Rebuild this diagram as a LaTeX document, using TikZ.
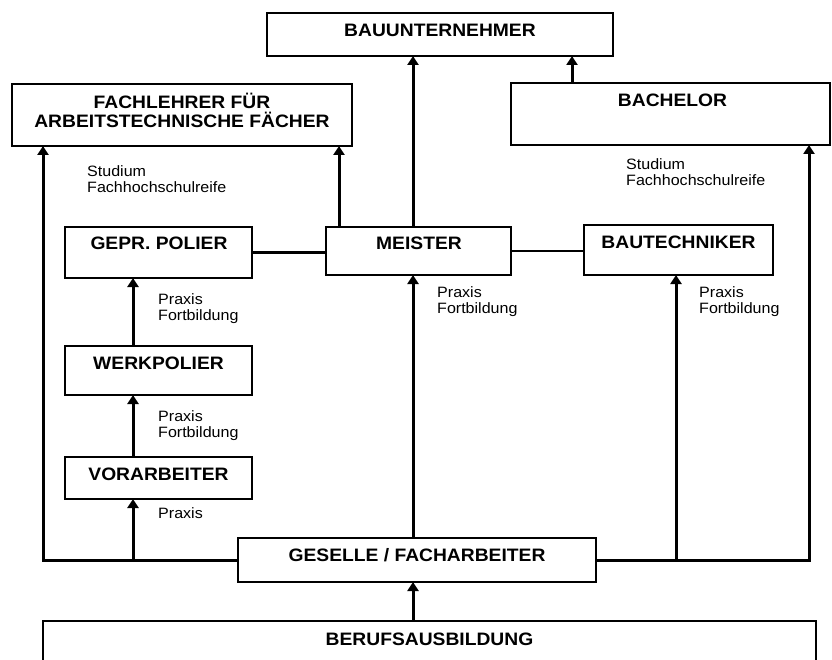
\documentclass[tikz,border=0pt]{standalone}
\usepackage{fontspec}
\setmainfont[FakeStretch=1.07]{Liberation Sans}
\usetikzlibrary{arrows.meta}
\begin{document}
\begin{tikzpicture}[x=1pt,y=-1pt,
  box/.style={draw, line width=2pt, rectangle, inner sep=0pt, outer sep=0pt},
  title/.style={font=\bfseries\fontsize{18}{19}\selectfont, inner sep=0pt, anchor=base, align=center},
  note/.style={font=\fontsize{15}{16}\selectfont, inner sep=0pt, anchor=base west, align=left},
  arr/.style={line width=3pt, -{Triangle[width=11pt,length=9pt]}},
  link/.style={line width=2.5pt}]
\fill[white] (0,0) rectangle (832,660);
\useasboundingbox (0,0) rectangle (832,660);

% boxes
\node[box, minimum width=346pt, minimum height=43pt] (bau) at (440,34.5) {};
\node[title] (tbau) at (440,37) {BAUUNTERNEHMER};
\node[box, minimum width=340pt, minimum height=62pt] (fach) at (182,115) {};
\node[title] (tfach) at (182,128) {FACHLEHRER FÜR\\ARBEITSTECHNISCHE FÄCHER};
\node[box, minimum width=319pt, minimum height=62pt] (bach) at (670.5,114) {};
\node[title] (tbach) at (672.5,107) {BACHELOR};
\node[box, minimum width=187pt, minimum height=51pt] (polier) at (158.5,252.5) {};
\node[title] (tpolier) at (159,250) {GEPR. POLIER};
\node[box, minimum width=185pt, minimum height=48pt] (meister) at (418.5,251) {};
\node[title] (tmeister) at (419,250) {MEISTER};
\node[box, minimum width=189pt, minimum height=50pt] (btech) at (678.5,250) {};
\node[title] (tbtech) at (678.5,249) {BAUTECHNIKER};
\node[box, minimum width=187pt, minimum height=49pt] (werk) at (158.5,370.5) {};
\node[title] (twerk) at (158.5,369) {WERKPOLIER};
\node[box, minimum width=187pt, minimum height=42pt] (vor) at (158.5,478) {};
\node[title] (tvor) at (158.5,480) {VORARBEITER};
\node[box, minimum width=358pt, minimum height=44pt] (ges) at (417,560) {};
\node[title] (tges) at (417,561) {GESELLE / FACHARBEITER};
\node[box, minimum width=773pt, minimum height=70pt] (beruf) at (429.5,656) {};
\node[title] (tberuf) at (429.5,645) {BERUFSAUSBILDUNG};

% labels (anchor = baseline of last line)
\node[note] (l1) at (87,193) {Studium\\Fachhochschulreife};
\node[note] (l2) at (626,186) {Studium\\Fachhochschulreife};
\node[note] (l3) at (158,320) {Praxis\\Fortbildung};
\node[note] (l4) at (437,313) {Praxis\\Fortbildung};
\node[note] (l5) at (699,313) {Praxis\\Fortbildung};
\node[note] (l6) at (158,437) {Praxis\\Fortbildung};
\node[note] (l7) at (158,518) {Praxis};

% connector x positions
\coordinate (xl) at (43,0);
\coordinate (xp) at (133,0);
\coordinate (xf) at (339,0);
\coordinate (xm) at (413,0);
\coordinate (xb) at (572,0);
\coordinate (xt) at (676,0);
\coordinate (xr) at (809,0);

% connectors
\draw[arr] (meister.north -| xm) -- (bau.south -| xm);
\draw[arr] (meister.north -| xf) -- (fach.south -| xf);
\draw[arr] (bach.north -| xb) -- (bau.south -| xb);
\draw[link] (polier.east) -- (polier.east -| meister.west);
\draw[link] (meister.east) -- (meister.east -| btech.west);
\draw[arr] (ges.west) -| (fach.south -| xl);
\draw[arr] (ges.east) -| (bach.south -| xr);
\draw[arr] (ges.west -| xp) -- (vor.south -| xp);
\draw[arr] (vor.north -| xp) -- (werk.south -| xp);
\draw[arr] (werk.north -| xp) -- (polier.south -| xp);
\draw[arr] (ges.east -| xt) -- (btech.south -| xt);
\draw[arr] (ges.north -| xm) -- (meister.south -| xm);
\draw[arr] (beruf.north -| xm) -- (ges.south -| xm);
\end{tikzpicture}
\end{document}
